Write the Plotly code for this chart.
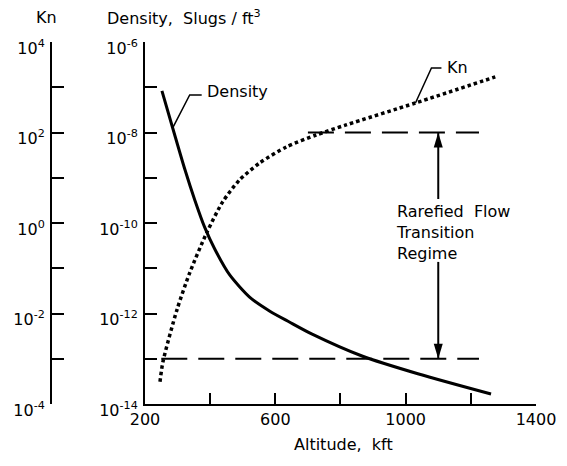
import plotly.graph_objects as go

# Atmospheric density vs altitude (slugs/ft^3)
density_alt = [252, 285, 322, 353, 383, 414, 460, 521, 582, 643, 713, 866, 1040, 1262]
density_val = [8.3e-8, 1.26e-8, 1.56e-9, 3.2e-10, 8.1e-11, 2.66e-11, 7.1e-12, 2.3e-12,
               1.14e-12, 6.5e-13, 3.5e-13, 1.15e-13, 4.6e-14, 1.66e-14]

# Knudsen number vs altitude
kn_alt = [246, 255, 298, 337, 389, 438, 490, 551, 634, 725, 817, 1030, 1275]
kn_val = [3.1e-4, 8.5e-4, 1.2e-2, 7.85e-2, 0.60, 2.9, 8.9, 21, 48, 88, 147, 449, 1690]

# Rarefied-flow transition regime limits (density)
upper_limit_alt = [700, 1225]
upper_limit_rho = [1e-8, 1e-8]
lower_limit_alt = [250, 1225]
lower_limit_rho = [1e-13, 1e-13]
regime_arrow_alt = 1100

# Axis ticks
alt_ticks = [200, 400, 600, 800, 1000, 1200, 1400]
alt_ticktext = ["200", "", "600", "", "1000", "", "1400"]
rho_exps = list(range(-14, -5))
kn_exps = list(range(-4, 5))

FONT = "DejaVu Sans"
FS = 16
INK = "#000000"


def exp_labels(exps):
    return [f"10<sup>{e}</sup>" if e % 2 == 0 else "" for e in exps]


fig = go.Figure()

fig.add_trace(go.Scatter(
    x=density_alt, y=density_val, mode="lines", yaxis="y",
    line=dict(color=INK, width=3, shape="spline", smoothing=0.7),
    hoverinfo="skip"))

fig.add_trace(go.Scatter(
    x=kn_alt, y=kn_val, mode="lines", yaxis="y2",
    line=dict(color=INK, width=3.5, dash="3.5px,3px", shape="spline", smoothing=0.7),
    hoverinfo="skip"))

for xs, ys in [(upper_limit_alt, upper_limit_rho), (lower_limit_alt, lower_limit_rho)]:
    fig.add_trace(go.Scatter(
        x=xs, y=ys, mode="lines", yaxis="y",
        line=dict(color=INK, width=2, dash="26px,11px"),
        hoverinfo="skip"))

shapes = []
# arrow shafts between the two limits, split around the label
shapes.append(dict(type="line", xref="x", yref="y",
                   x0=regime_arrow_alt, x1=regime_arrow_alt,
                   y0=upper_limit_rho[0], y1=10 ** -9.47,
                   line=dict(color=INK, width=2)))
shapes.append(dict(type="line", xref="x", yref="y",
                   x0=regime_arrow_alt, x1=regime_arrow_alt,
                   y0=10 ** -10.86, y1=lower_limit_rho[0],
                   line=dict(color=INK, width=2)))
# arrowheads
shapes.append(dict(type="path", xref="x", yref="y", xsizemode="pixel", ysizemode="pixel",
                   xanchor=regime_arrow_alt, yanchor=upper_limit_rho[0],
                   path="M0,0 L-4.5,-15 L4.5,-15 Z", fillcolor=INK, line=dict(width=0)))
shapes.append(dict(type="path", xref="x", yref="y", xsizemode="pixel", ysizemode="pixel",
                   xanchor=regime_arrow_alt, yanchor=lower_limit_rho[0],
                   path="M0,0 L-4.5,15 L4.5,15 Z", fillcolor=INK, line=dict(width=0)))
# leader lines for curve labels
shapes.append(dict(type="path", xref="x", yref="y", xsizemode="pixel", ysizemode="pixel",
                   xanchor=density_alt[1], yanchor=density_val[1],
                   path="M0,0 L17,33 L29,33", line=dict(color=INK, width=1.5)))
shapes.append(dict(type="path", xref="x", yref="y2", xsizemode="pixel", ysizemode="pixel",
                   xanchor=kn_alt[11], yanchor=kn_val[11],
                   path="M0,0 L16,35 L26,35", line=dict(color=INK, width=1.5)))

annotations = [
    dict(text="Kn", xref="paper", yref="paper", x=-0.0103, y=1.069,
         showarrow=False, xanchor="center", yanchor="middle"),
    dict(text="Density,  Slugs / ft<sup>3</sup>", xref="paper", yref="paper", x=0.1113, y=1.069,
         showarrow=False, xanchor="left", yanchor="middle"),
    dict(text="Altitude,  kft", xref="paper", yref="paper", x=0.604, y=-0.113,
         showarrow=False, xanchor="center", yanchor="middle"),
    dict(text="Density", xref="x", yref="y", x=383, y=-7.1,
         showarrow=False, xanchor="left", yanchor="middle"),
    dict(text="Kn", xref="x", yref="y", x=1122, y=-6.57,
         showarrow=False, xanchor="left", yanchor="middle"),
    dict(text="Rarefied  Flow<br>Transition<br>Regime", xref="x", yref="y", x=963, y=-10.2,
         showarrow=False, xanchor="left", yanchor="middle", align="left"),
]

axis_common = dict(
    showline=True, linecolor=INK, linewidth=2, showgrid=False, zeroline=False,
    ticks="inside", tickcolor=INK, tickwidth=2, ticklen=12,
    tickfont=dict(family=FONT, size=FS, color=INK),
)

fig.update_layout(
    width=567, height=466,
    margin=dict(l=51, r=31, t=42, b=62),
    paper_bgcolor="white", plot_bgcolor="white",
    showlegend=False,
    font=dict(family=FONT, size=FS, color=INK),
    xaxis=dict(range=[200, 1400], domain=[0.1938, 1.0], tickvals=alt_ticks,
               ticktext=alt_ticktext, **{**axis_common, "ticklen": 11}),
    yaxis=dict(type="log", range=[-14, -6], anchor="x", side="left",
               tickvals=[10.0 ** e for e in rho_exps], ticktext=exp_labels(rho_exps),
               ticklabelshift=6, ticklabelstandoff=2, **axis_common),
    yaxis2=dict(type="log", range=[-4, 4], overlaying="y", anchor="free", position=0,
                side="left", tickvals=[10.0 ** e for e in kn_exps],
                ticktext=exp_labels(kn_exps), ticklabelshift=6, ticklabelstandoff=2,
                **axis_common),
    shapes=shapes,
    annotations=annotations,
)

fig.write_html("out.html")
